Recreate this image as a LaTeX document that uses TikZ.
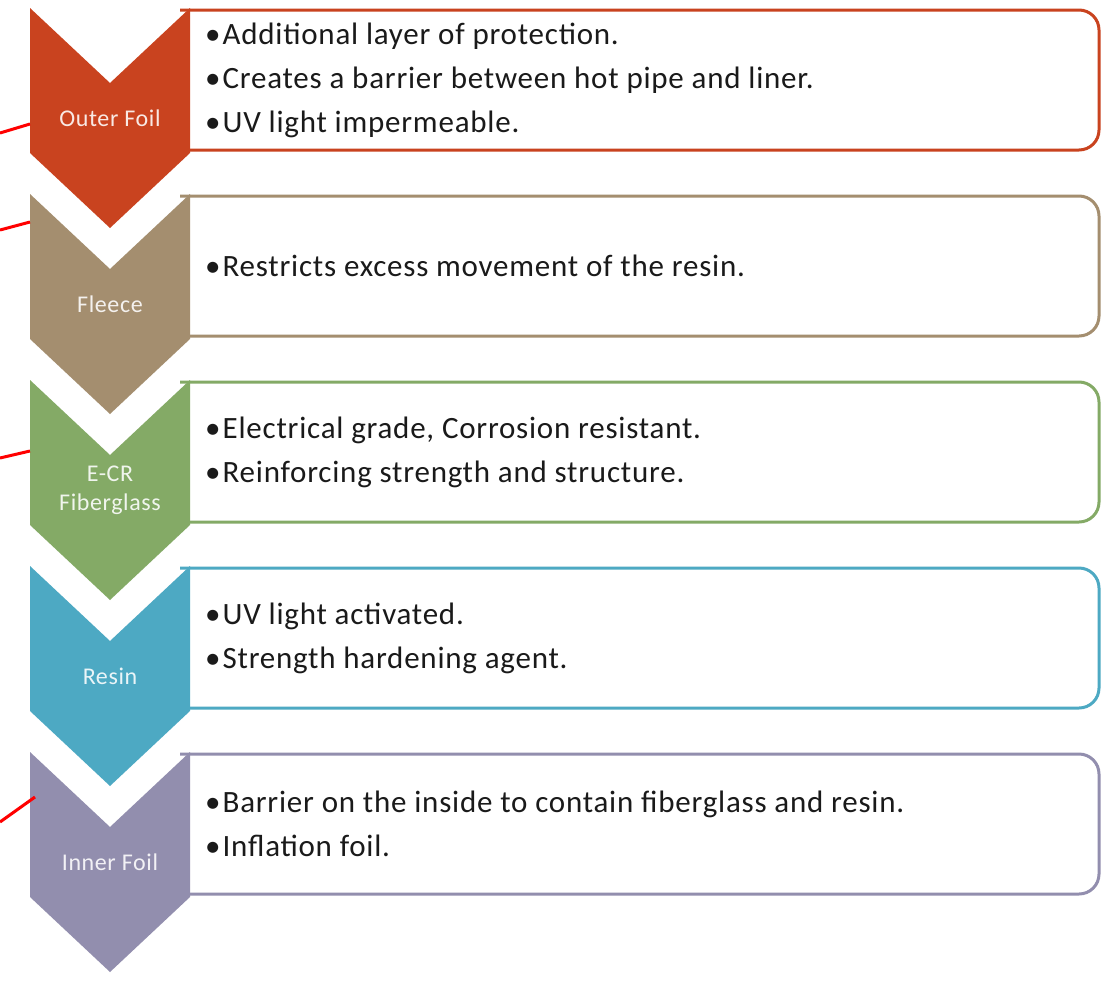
\documentclass[tikz,border=0pt]{standalone}
\usepackage{fontspec}
\setmainfont{Carlito}[LetterSpace=2.5]
\definecolor{foilred}{HTML}{C9431F}
\definecolor{fleece}{HTML}{A48E6F}
\definecolor{glass}{HTML}{84AA66}
\definecolor{resin}{HTML}{4DA9C3}
\definecolor{innerfoil}{HTML}{928EAE}
\definecolor{bodytext}{HTML}{1A1A1A}
\tikzset{
  layerbox/.style={line width=3pt, rounded corners=20pt},
  layerlabel/.style={font=\fontsize{24}{29}\selectfont, align=center, inner sep=0pt},
  layertext/.style={font=\fontsize{31}{44}\selectfont, align=left, anchor=west,
    inner sep=0pt, text=bodytext},
  pointer/.style={red, line width=3pt},
}
% one layer: #1 name, #2 top edge, #3 colour, #4 chevron label, #5 bullet text
\newcommand\drawlayer[5]{%
  \draw[layerbox, #3] (180,#2+2) -- (1099,#2+2) -- (1099,#2+142) -- (180,#2+142);
  \fill[#3] (30,#2) -- (110,#2+75) -- (190,#2) -- (190,#2+145)
    -- (110,#2+220) -- (30,#2+145) -- cycle;
  \node[layerlabel, text=white!88!#3] (#1-label) at (110,#2+110) {#4};
  \node[layertext] (#1-text) at (205,#2+72) {#5};
}
\newcommand\itm{\textbullet\hspace{2pt}}
\begin{document}
\begin{tikzpicture}[x=1pt,y=-1pt]
\useasboundingbox (0,0) rectangle (1102,980);
\fill[white] (0,0) rectangle (1102,980);

\drawlayer{outer}{8}{foilred}{Outer Foil}
  {\itm Additional layer of protection.\\ \itm Creates a barrier between hot pipe and liner.\\ \itm UV light impermeable.}
\drawlayer{fleece}{194}{fleece}{Fleece}
  {\itm Restricts excess movement of the resin.}
\drawlayer{glass}{380}{glass}{E-CR\\Fiberglass}
  {\itm Electrical grade, Corrosion resistant.\\ \itm Reinforcing strength and structure.}
\drawlayer{resin}{566}{resin}{Resin}
  {\itm UV light activated.\\ \itm Strength hardening agent.}
\drawlayer{inner}{752}{innerfoil}{Inner Foil}
  {\itm Barrier on the inside to contain fiberglass and resin.\\ \itm Inflation foil.}

% leader lines coming in from the left edge
\coordinate (p1) at (0,133);  \coordinate (q1) at (30,124);
\coordinate (p2) at (0,230);  \coordinate (q2) at (30,222);
\coordinate (p3) at (0,458);  \coordinate (q3) at (30,451);
\coordinate (p5) at (0,822);  \coordinate (q5) at (35,797);
\draw[pointer] (p1) -- (q1);
\draw[pointer] (p2) -- (q2);
\draw[pointer] (p3) -- (q3);
\draw[pointer] (p5) -- (q5);
\end{tikzpicture}
\end{document}
